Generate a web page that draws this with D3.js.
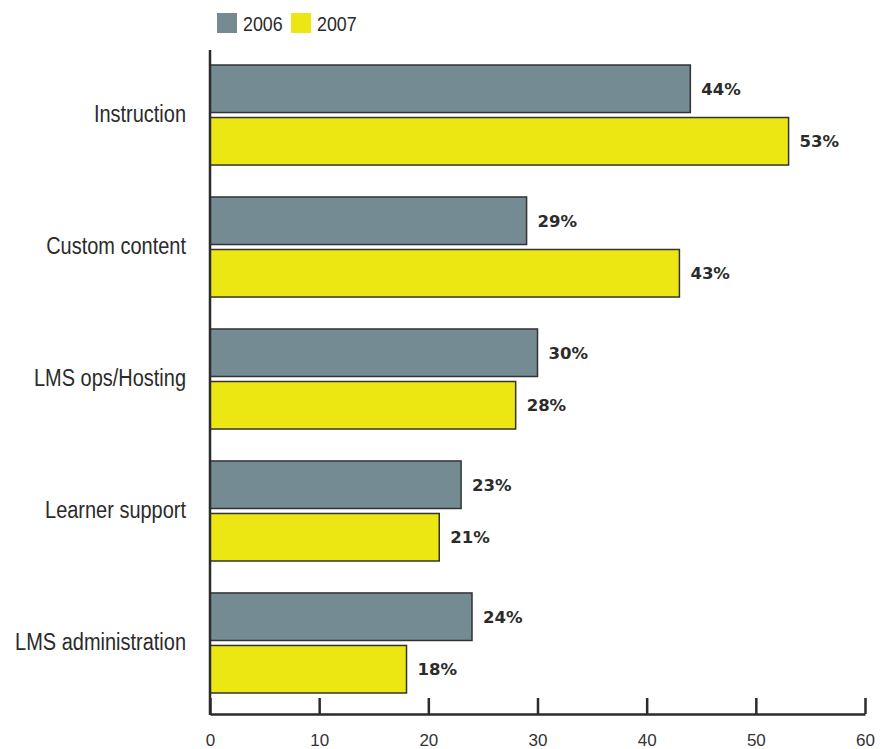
<!DOCTYPE html>
<html>
<head>
<meta charset="utf-8">
<script src="https://cdn.jsdelivr.net/npm/d3@7"></script>
<style>
  html, body { margin: 0; padding: 0; background: #ffffff; }
  svg { display: block; }
</style>
</head>
<body>
<svg id="chart" width="880" height="749"></svg>
<script>
// Outsourced services by category, share of respondents (%)
const categories = ["Instruction", "Custom content", "LMS ops/Hosting", "Learner support", "LMS administration"];
const years = ["2006", "2007"];
const values2006 = [44, 29, 30, 23, 24];
const values2007 = [53, 43, 28, 21, 18];
const xTicks = [0, 10, 20, 30, 40, 50, 60];

const colors = { "2006": "#748b94", "2007": "#ece712" };
const ink = "#2b2b2b";
const sans = "'Liberation Sans', Arial, sans-serif";
const condense = 0.85; // horizontal squeeze for the condensed label face

const rows = categories.map((c, i) => ({
  category: c,
  bars: [
    { year: "2006", value: values2006[i] },
    { year: "2007", value: values2007[i] }
  ]
}));

const svg = d3.select("#chart");

const x = d3.scaleLinear().domain([0, 60]).range([210, 865]);
const y = d3.scaleBand().domain(categories).range([65, 693]).paddingInner(0.242).paddingOuter(0);
const yInner = d3.scaleBand().domain(years).range([0, y.bandwidth()]).paddingInner(0.095).paddingOuter(0);

// Bars
const groups = svg.append("g").selectAll("g.group")
  .data(rows)
  .join("g")
  .attr("class", "group")
  .attr("transform", d => `translate(0,${y(d.category)})`);

groups.selectAll("rect")
  .data(d => d.bars)
  .join("rect")
  .attr("x", x(0))
  .attr("y", d => yInner(d.year))
  .attr("width", d => x(d.value) - x(0))
  .attr("height", yInner.bandwidth())
  .attr("fill", d => colors[d.year])
  .attr("stroke", "#333333")
  .attr("stroke-width", 1.5);

// Value labels
groups.selectAll("text.value")
  .data(d => d.bars)
  .join("text")
  .attr("class", "value")
  .attr("x", d => x(d.value) + 11)
  .attr("y", d => yInner(d.year) + yInner.bandwidth() / 2)
  .attr("dy", "0.36em")
  .attr("font-family", "'DejaVu Sans', sans-serif")
  .attr("font-weight", 700)
  .attr("font-size", 16.5)
  .attr("fill", ink)
  .text(d => d.value + "%");

// Category labels (condensed)
svg.append("g").selectAll("g")
  .data(categories)
  .join("g")
  .attr("transform", d => `translate(186,${y(d) + y.bandwidth() / 2}) scale(${condense},1)`)
  .append("text")
  .attr("dy", "0.3em")
  .attr("text-anchor", "end")
  .attr("font-family", sans)
  .attr("font-size", 23.5)
  .attr("fill", ink)
  .text(d => d);

// Horizontal axis with ticks pointing up
const xAxis = d3.axisBottom(x)
  .tickValues(xTicks)
  .tickFormat(d3.format("d"))
  .tickSizeInner(-16)
  .tickSizeOuter(0)
  .tickPadding(20);

const axisG = svg.append("g")
  .attr("transform", "translate(0,714)")
  .call(xAxis);
axisG.select(".domain").attr("stroke", ink).attr("stroke-width", 2.5);
axisG.selectAll(".tick line").attr("stroke", ink).attr("stroke-width", 2.5);
axisG.selectAll(".tick text")
  .attr("fill", "#333333")
  .attr("font-family", sans)
  .attr("font-size", 17);

// Vertical baseline
svg.append("line")
  .attr("x1", x(0)).attr("x2", x(0))
  .attr("y1", 50).attr("y2", 715)
  .attr("stroke", ink)
  .attr("stroke-width", 2.5);

// Legend
const legend = svg.append("g").selectAll("g")
  .data(years)
  .join("g")
  .attr("transform", (d, i) => `translate(${217 + i * 74},13)`);

legend.append("rect")
  .attr("width", 20)
  .attr("height", 20)
  .attr("fill", d => colors[d]);

legend.append("g")
  .attr("transform", `translate(26,10) scale(${condense},1)`)
  .append("text")
  .attr("dy", "0.36em")
  .attr("font-family", sans)
  .attr("font-size", 21)
  .attr("fill", ink)
  .text(d => d);
</script>
</body>
</html>
